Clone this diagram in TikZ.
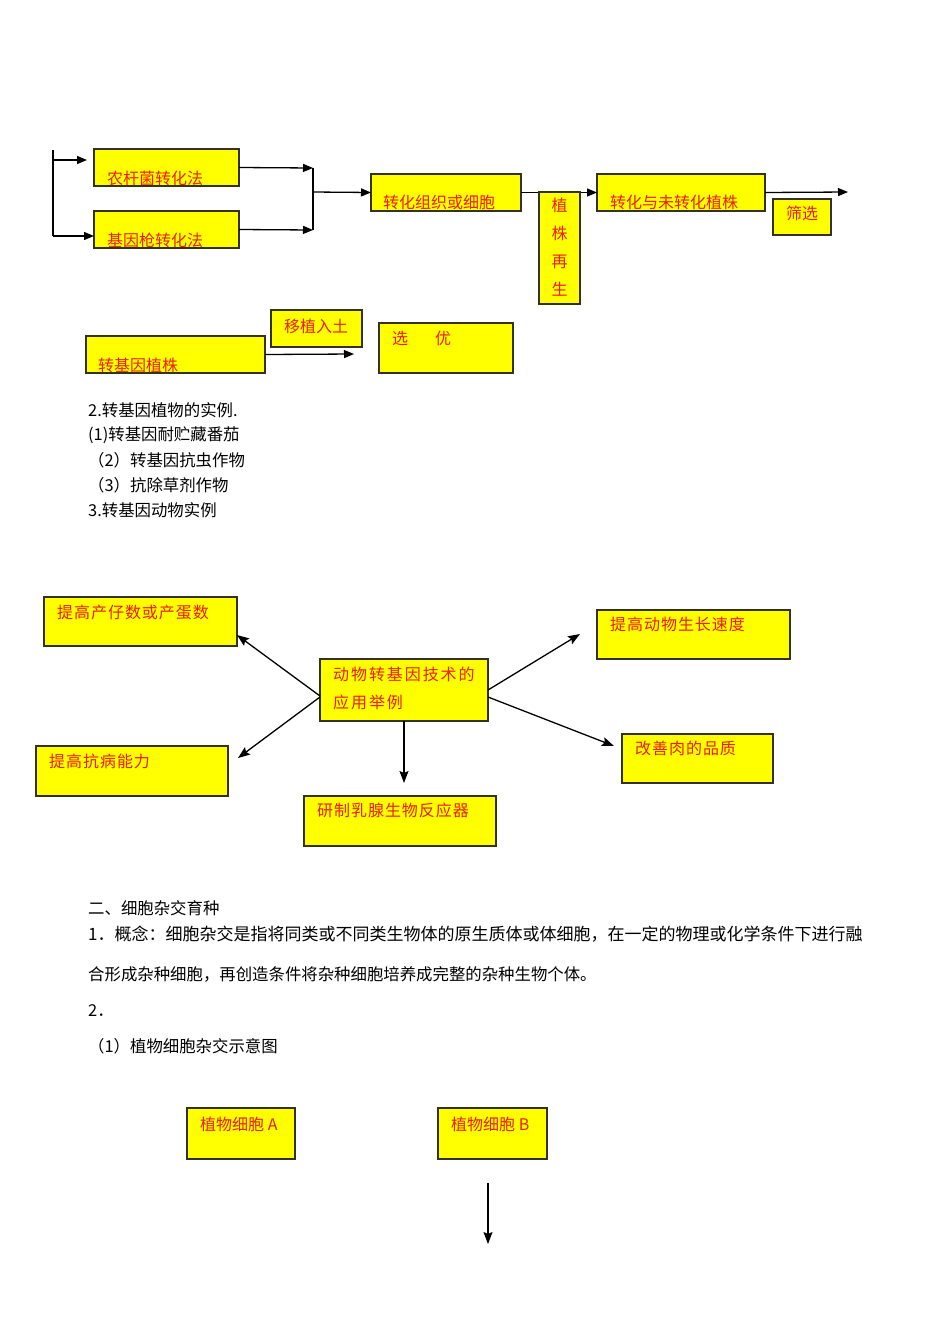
\documentclass[tikz,border=0pt]{standalone}
\usepackage{fontspec}
\setmainfont{Noto Sans CJK SC}
\newfontfamily\cjk{Noto Sans CJK SC}
\usetikzlibrary{arrows.meta,calc}
\definecolor{boxyellow}{RGB}{255,255,0}
\definecolor{boxline}{RGB}{50,50,30}
\definecolor{lbl}{RGB}{235,30,0}
\begin{document}
\begin{tikzpicture}[x=1pt,y=-1pt,
 ybox/.style={draw=boxline, fill=boxyellow, line width=1.3pt, anchor=north west, inner sep=0pt, outer sep=0pt},
 lab/.style={anchor=west, inner sep=0pt, text=lbl, font=\cjk\fontsize{16}{18}\selectfont},
 labw/.style={anchor=west, inner sep=0pt, text=lbl, font=\cjk\fontsize{16}{18}\selectfont\addfontfeature{LetterSpace=6}},
 body/.style={anchor=west, inner sep=0pt, font=\cjk\fontsize{16.4}{18}\selectfont},
 conn/.style={line width=1.3pt, draw=black},
 arr/.style={conn, -{Triangle[length=10pt,width=8pt]}},
 arrs/.style={conn, -{Stealth[length=12pt,width=9pt,inset=2pt]}},
]
\fill[white] (0,0) rectangle (950,1344);
\useasboundingbox (0,0) rectangle (950,1344);

% ---------- top flow ----------
\node[ybox, minimum width=145pt, minimum height=37pt] (nk) at (94,149) {};
\node[lab] (nkt) at (107,178) {农杆菌转化法};
\node[ybox, minimum width=145pt, minimum height=37pt] (jg) at (94,211) {};
\node[lab] (jgt) at (107,240) {基因枪转化法};

\coordinate (s1) at (53,150);
\coordinate (s2) at (53,236);
\coordinate (s1e) at (87,160);
\draw[conn] (s1) -- (s2);
\draw[arr] (53,160) -- (s1e);
\draw[arr] (s2) -- (jg.west |- s2);

\coordinate (j1) at (313,168);
\coordinate (j2) at (313,230);
\coordinate (jm) at (313,192);
\draw[arr] (nk.east) -- (j1);
\draw[arr] (jg.east) -- (j2);
\draw[conn] (j1) -- (j2);

\node[ybox, minimum width=150pt, minimum height=37pt] (zz) at (371,174) {};
\node[lab] (zzt) at (383,202) {转化组织或细胞};
\draw[arr] (jm) -- (zz.west);

\node[ybox, minimum width=168pt, minimum height=37pt] (zh) at (597,174) {};
\node[lab] (zht) at (610,202) {转化与未转化植株};
\draw[arr] (zz.east) -- (zh.west);

\node[ybox, minimum width=41pt, minimum height=112pt] (zs) at (539,192) {};
\node[lab, anchor=north, align=center, font=\cjk\fontsize{16}{27.8}\selectfont] (zst) at (559.5,198) {植\\株\\再\\生};

\coordinate (e1) at (848,192);
\draw[arr] (zh.east) -- (e1);
\node[ybox, minimum width=58pt, minimum height=36pt] (sx) at (773,199) {};
\node[lab, anchor=center] (sxt) at (802,213) {筛选};

% ---------- second row ----------
\node[ybox, minimum width=179pt, minimum height=37pt] (jy) at (86,336) {};
\node[lab] (jyt) at (98,365) {转基因植株};
\node[ybox, minimum width=91pt, minimum height=37pt] (yz) at (271,310) {};
\node[lab, anchor=center] (yzt) at (316,326) {移植入土};
\coordinate (e2) at (354,354);
\draw[arr] (jy.east) -- (e2);
\node[ybox, minimum width=134pt, minimum height=50pt] (xy) at (379,323) {};
\node[lab] (xyt) at (392,338) {选\hspace{27pt}优};

% ---------- text ----------
\node[body] (t1) at (88,410) {2.转基因植物的实例.};
\node[body] (t2) at (88,435) {(1)转基因耐贮藏番茄};
\node[body] (t3) at (88,460) {（2）转基因抗虫作物};
\node[body] (t4) at (88,485) {（3）抗除草剂作物};
\node[body] (t5) at (88,510) {3.转基因动物实例};

% ---------- animal diagram ----------
\node[ybox, minimum width=168pt, minimum height=62pt] (c) at (320,659) {};
\node[labw, align=left, font=\cjk\fontsize{16}{28}\selectfont\addfontfeature{LetterSpace=12}] (ct) at (333,688) {动物转基因技术的\\应用举例};

\node[ybox, minimum width=193pt, minimum height=49pt] (p1) at (44,597) {};
\node[labw] (p1t) at (57,612) {提高产仔数或产蛋数};
\node[ybox, minimum width=193pt, minimum height=49pt] (p2) at (597,610) {};
\node[labw] (p2t) at (610,624) {提高动物生长速度};
\node[ybox, minimum width=192pt, minimum height=50pt] (p3) at (36,746) {};
\node[labw] (p3t) at (49,761) {提高抗病能力};
\node[ybox, minimum width=151pt, minimum height=49pt] (p4) at (622,734) {};
\node[labw] (p4t) at (635,748) {改善肉的品质};
\node[ybox, minimum width=192pt, minimum height=50pt] (p5) at (304,796) {};
\node[labw] (p5t) at (317,810) {研制乳腺生物反应器};

\coordinate (a1) at (237,635);
\coordinate (a2) at (238,758);
\coordinate (a3) at (404,783);
\coordinate (a4) at (580,634);
\coordinate (a5) at (614,746);
\draw[arrs] ([yshift=-6pt]c.west) -- (a1);
\draw[arrs] ([yshift=-7pt]c.west) -- (a2);
\draw[arrs] (c.south -| a3) -- (a3);
\draw[arrs] (c.east) -- (a4);
\draw[arrs] ([yshift=-7pt]c.east) -- (a5);

% ---------- text 2 ----------
\node[body] (u1) at (88,908) {二、细胞杂交育种};
\node[body, font=\cjk\fontsize{17}{18}\selectfont] (u2) at (88,934) {1．概念：细胞杂交是指将同类或不同类生物体的原生质体或体细胞，在一定的物理或化学条件下进行融};
\node[body] (u3) at (88,974) {合形成杂种细胞，再创造条件将杂种细胞培养成完整的杂种生物个体。};
\node[body] (u4) at (88,1011) {2．};
\node[body] (u5) at (88,1046) {（1）植物细胞杂交示意图};

% ---------- bottom ----------
\node[ybox, minimum width=108pt, minimum height=51pt] (ca) at (187,1108) {};
\node[lab] (cat) at (200,1124) {植物细胞 A};
\node[ybox, minimum width=109pt, minimum height=51pt] (cb) at (438,1108) {};
\node[lab] (cbt) at (451,1124) {植物细胞 B};
\coordinate (b1) at (488,1183);
\coordinate (b2) at (488,1244);
\draw[arrs] (b1) -- (b2);
\end{tikzpicture}
\end{document}
